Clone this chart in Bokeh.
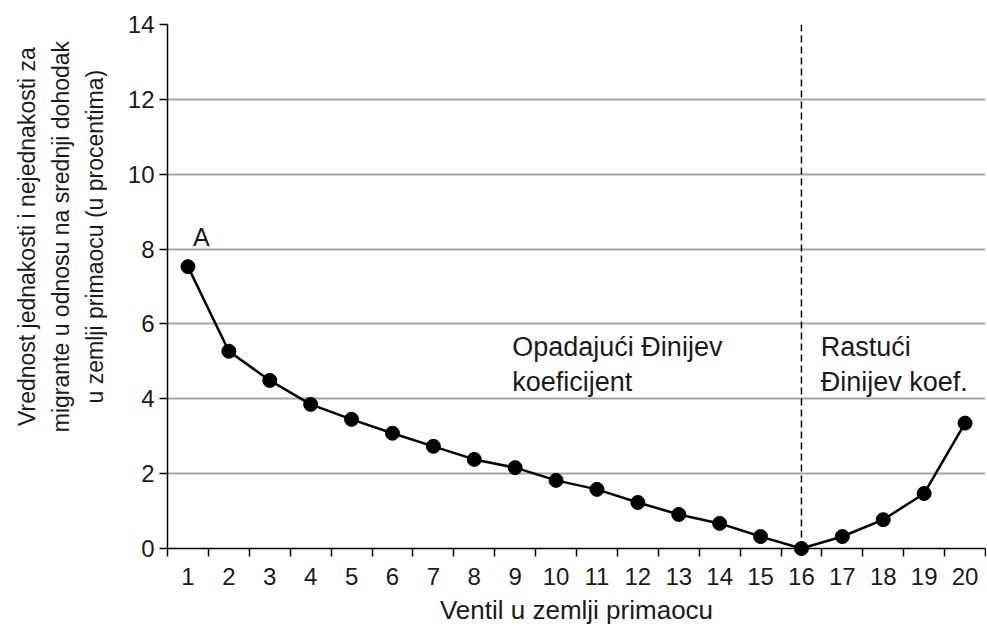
import math
from bokeh.plotting import figure
from bokeh.layouts import row
from bokeh.models import Range1d, FixedTicker, Span
from bokeh.core.properties import value
from bokeh.embed import file_html
from bokeh.resources import INLINE

# ---- data -------------------------------------------------------------
ventiles = list(range(1, 21))
inequality = [7.53, 5.27, 4.49, 3.85, 3.45, 3.08, 2.73, 2.38, 2.16, 1.82,
              1.58, 1.23, 0.91, 0.67, 0.32, 0.00, 0.32, 0.77, 1.47, 3.35]
y_ticks = [0, 2, 4, 6, 8, 10, 12, 14]
turning_point = 16
point_label = "A"
region_labels = ["Opadajući Đinijev\nkoeficijent", "Rastući\nĐinijev koef."]
x_title = "Ventil u zemlji primaocu"
y_title_lines = ["Vrednost jednakosti i nejednakosti za",
                 "migrante u odnosu na srednji dohodak",
                 "u zemlji primaocu (u procentima)"]

FONT = "Liberation Sans"
TXT = "#1a1a1a"
H = 635
LEFT_W = 107

boundaries = [v - 0.5 for v in ventiles] + [ventiles[-1] + 0.5]

# ---- left strip holding the rotated, three-line y title ----------------
t = figure(width=LEFT_W, height=H, x_range=Range1d(0, LEFT_W),
           y_range=Range1d(0, H), output_backend="svg",
           toolbar_location=None, min_border=0)
t.axis.visible = False
t.grid.visible = False
t.outline_line_color = None
line_gap = 34
t.text(x=[26 + i * line_gap for i in range(len(y_title_lines))],
       y=[H - 257] * len(y_title_lines), text=y_title_lines,
       angle=math.pi / 2, text_font=value(FONT), text_font_size="23px",
       text_color=TXT, text_align="center", text_baseline="middle")

# ---- main chart ----------------------------------------------------------
p = figure(width=986 - LEFT_W, height=H,
           x_range=Range1d(boundaries[0], boundaries[-1]),
           y_range=Range1d(y_ticks[0], y_ticks[-1]),
           output_backend="svg", toolbar_location=None,
           min_border_left=167 - LEFT_W, min_border_right=1,
           min_border_top=24, min_border_bottom=H - 548)
p.outline_line_color = None
p.background_fill_color = "white"
p.border_fill_color = "white"

p.xaxis.ticker = FixedTicker(ticks=ventiles, minor_ticks=boundaries)
p.xaxis.major_tick_line_color = None
p.xaxis.minor_tick_line_color = "black"
p.xaxis.minor_tick_line_width = 1.5
p.xaxis.minor_tick_out = 8
p.xaxis.minor_tick_in = 0
p.xaxis.axis_label = x_title
p.xaxis.major_label_standoff = 11
p.xaxis.axis_label_standoff = 7

p.yaxis.ticker = FixedTicker(ticks=y_ticks)
p.yaxis.minor_tick_line_color = None
p.yaxis.major_tick_out = 8
p.yaxis.major_tick_in = 0
p.yaxis.major_tick_line_width = 1.5
p.yaxis.major_label_standoff = 5

for ax in (p.xaxis, p.yaxis):
    ax.axis_line_color = "black"
    ax.axis_line_width = 1.5
    ax.major_label_text_font = FONT
    ax.major_label_text_font_size = "24px"
    ax.major_label_text_color = TXT
    ax.axis_label_text_font = FONT
    ax.axis_label_text_font_size = "26px"
    ax.axis_label_text_font_style = "normal"
    ax.axis_label_text_color = TXT

p.xgrid.grid_line_color = None
p.ygrid.grid_line_color = "#a6a6a6"
p.ygrid.grid_line_width = 2

p.add_layout(Span(location=turning_point, dimension="height",
                  line_color="black", line_width=1.5, line_dash="7 4"))

p.line(ventiles, inequality, line_color="black", line_width=2.5)
p.scatter(ventiles, inequality, size=14, fill_color="black",
          line_color="black", level="overlay")

p.text(x=[ventiles[0]], y=[inequality[0]], text=[point_label],
       x_offset=5, y_offset=-30, text_font=value(FONT),
       text_font_size="25px", text_color=TXT, text_baseline="alphabetic")
p.text(x=[8.93, turning_point + 0.47], y=[5.78, 5.78], text=region_labels,
       text_font=value(FONT), text_font_size="27px", text_color=TXT,
       text_baseline="top", text_align="left", text_line_height=1.15)

layout = row(t, p, spacing=0)
open("out.html", "w").write(file_html(layout, INLINE))
